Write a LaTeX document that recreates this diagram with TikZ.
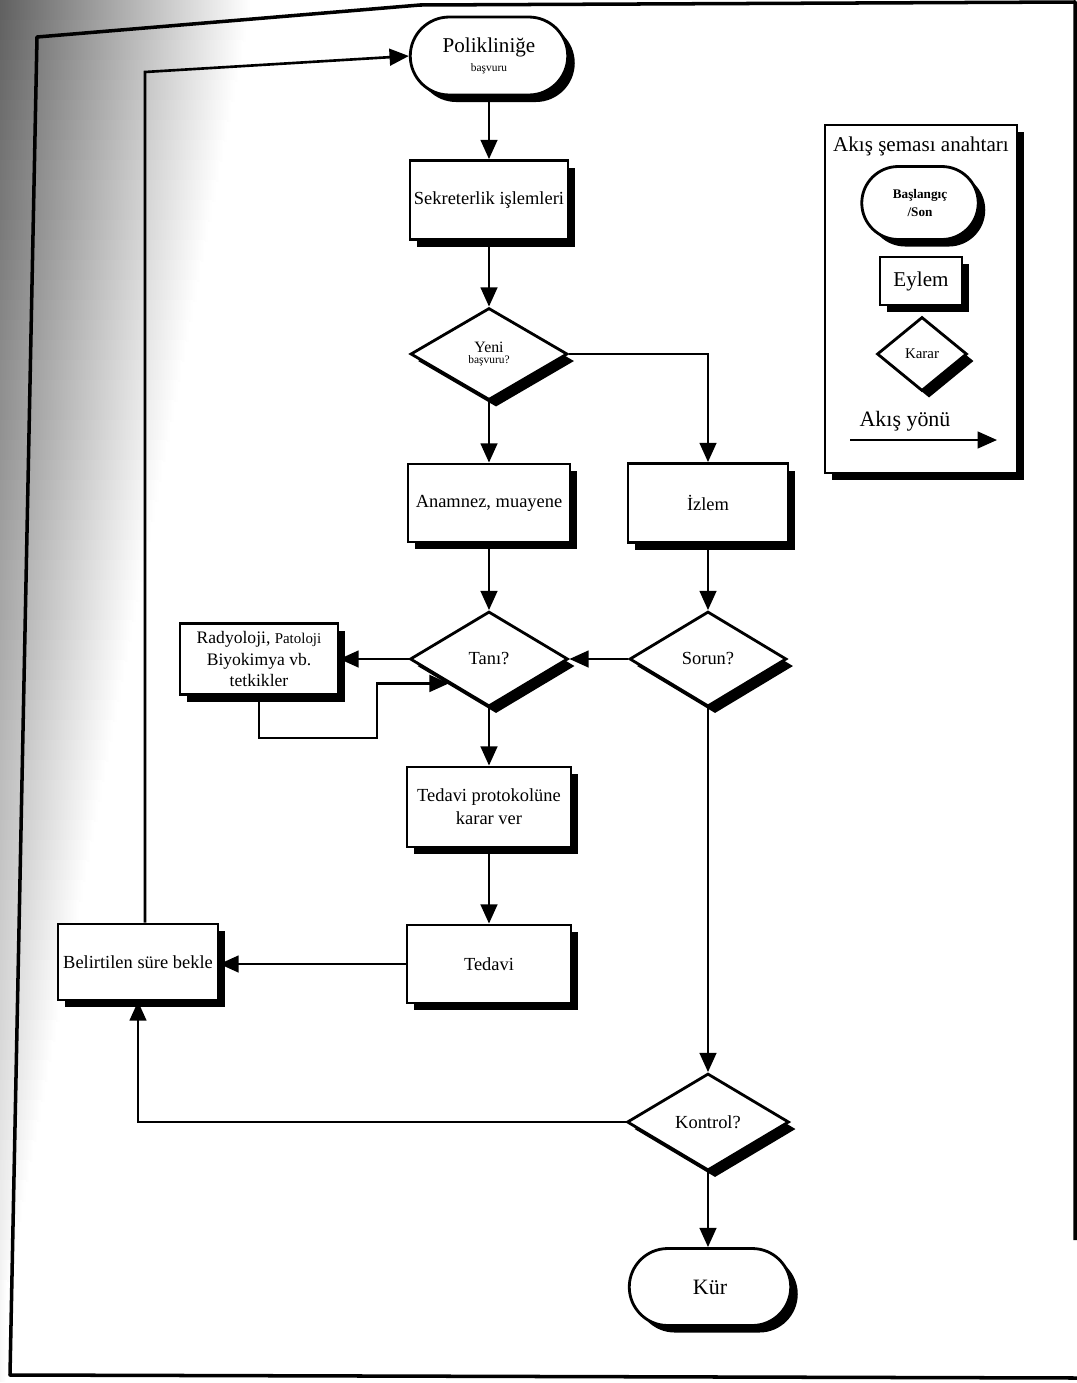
\documentclass[tikz,border=0pt]{standalone}
\usepackage{fontspec}
\setmainfont{Liberation Serif}
\usetikzlibrary{arrows.meta,shapes.geometric,shapes.misc,shadows,calc}

\newcommand\txtsize[2]{\fontsize{#1}{#2}\selectfont}

\tikzset{
  heavyshadow/.style={drop shadow={shadow xshift=4pt, shadow yshift=-4pt, fill=black, opacity=1}},
  box/.style={draw, line width=1.6pt, fill=white, rectangle, align=center,
    inner sep=1pt, heavyshadow, font=\txtsize{10.5}{13}},
  dec/.style={draw, line width=1.6pt, fill=white, diamond, align=center,
    inner sep=0pt, heavyshadow, font=\txtsize{10.5}{13}},
  term/.style={draw, line width=1.6pt, fill=white, rounded rectangle, align=center,
    inner sep=1pt, heavyshadow, font=\txtsize{12}{14}},
  conn/.style={line width=1.5pt, -{Triangle[length=11pt,width=9.5pt]}},
  label/.style={inner sep=0pt, align=center},
}

\begin{document}
\begin{tikzpicture}[x=0.02cm, y=-0.02cm]
\useasboundingbox (0,0) rectangle (1077,1383);
\fill[white] (0,0) rectangle (1077,1383);

% darkened left margin of the page
\foreach \i in {0,...,68} {
  \pgfmathsetmacro\ya{\i*20}
  \pgfmathsetmacro\yb{\ya+21}
  \pgfmathsetmacro\w{max(250-0.19*\ya,6)}
  \pgfmathtruncatemacro\d{max(62-0.045*\ya,3)}
  \shade[left color=black!\d, right color=white] (0,\ya) rectangle (\w,\yb);
}

% page frame
\draw[line width=2pt, line join=round] (1075,1240) -- (1075,2) -- (420,5) -- (37,37)
  -- (10,1375) -- (1077,1378);

% main flow
\node[term, minimum width=3.22cm, minimum height=1.56cm] (pol) at (489,56)
  {\txtsize{12}{13}Polikliniğe\\[-3pt]\txtsize{6.5}{9}başvuru};
\node[box, minimum width=3.16cm, minimum height=1.58cm] (sek) at (489,200)
  {Sekreterlik işlemleri};
\node[dec, minimum width=3.14cm, minimum height=1.84cm] (yeni) at (489,354)
  {\txtsize{9}{9}Yeni\\[-7pt]\txtsize{6.5}{7}başvuru?};
\node[box, minimum width=3.24cm, minimum height=1.56cm] (anam) at (489,503)
  {Anamnez, muayene};
\node[box, minimum width=3.2cm, minimum height=1.58cm] (izlem) at (708,503)
  {İzlem};
\node[dec, minimum width=3.16cm, minimum height=1.9cm] (tani) at (489,659)
  {Tanı?};
\node[dec, minimum width=3.14cm, minimum height=1.9cm] (sorun) at (708,659)
  {Sorun?};
\node[box, minimum width=3.16cm, minimum height=1.42cm, font=\txtsize{10}{12.5}] (rad) at (259,659)
  {Radyoloji, {\txtsize{8.5}{12.5}Patoloji}\\Biyokimya vb.\\tetkikler};
\node[box, minimum width=3.28cm, minimum height=1.6cm] (tedprot) at (489,807)
  {Tedavi protokolüne\\karar ver};
\node[box, minimum width=3.28cm, minimum height=1.56cm] (tedavi) at (489,964)
  {Tedavi};
\node[box, minimum width=3.2cm, minimum height=1.52cm] (bel) at (138,962)
  {Belirtilen süre bekle};
\node[dec, minimum width=3.24cm, minimum height=1.94cm] (kontrol) at (708,1122)
  {Kontrol?};
\node[term, minimum width=3.3cm, minimum height=1.54cm, font=\txtsize{12.5}{14}] (kur) at (710,1287)
  {Kür};

% connectors
\draw[conn] (pol.south) -- (sek.north);
\draw[conn] (sek.south) -- (yeni.north);
\draw[conn] (yeni.south) -- (anam.north);
\draw[conn] (yeni.east) -| (izlem.north);
\draw[conn] (anam.south) -- (tani.north);
\draw[conn] (izlem.south) -- (sorun.north);
\draw[conn] (tani.west) -- (tani.west -| rad.east);
\coordinate (loopA) at (377,738);
\coordinate (taniin) at ($(tani.west)!0.5!(tani.south)$);
\draw[conn] (rad.south) |- (loopA) |- (taniin);
\draw[conn] (sorun.west) -- (tani.east);
\draw[conn] (tani.south) -- (tedprot.north);
\draw[conn] (tedprot.south) -- (tedavi.north);
\draw[conn] (tedavi.west) -- (tedavi.west -| bel.east);
\draw[conn] (sorun.south) -- (kontrol.north);
\draw[conn] (kontrol.south) -- (kontrol.south |- kur.north);
\draw[conn] (kontrol.west) -| (bel.south);
\coordinate (ret) at (145,72);
\draw[conn] (bel.north -| ret) -- (ret) -- (pol.west);

% key to the symbols
\node[box, minimum width=3.84cm, minimum height=6.96cm] (legend) at (921,299) {};
\node[label, font=\txtsize{12}{14}] (legtitle) at (921,146) {Akış şeması anahtarı};
\node[term, minimum width=2.4cm, minimum height=1.46cm, font=\bfseries\txtsize{7.5}{10}] (legterm) at (920,203)
  {Başlangıç\\/Son};
\node[box, minimum width=1.64cm, minimum height=0.96cm, font=\txtsize{12}{14}] (legbox) at (921,281)
  {Eylem};
\node[dec, minimum width=1.8cm, minimum height=1.48cm, font=\txtsize{8.5}{10}] (legdec) at (922,354)
  {Karar};
\node[label, font=\txtsize{12.5}{14}] (legflow) at (905,421) {Akış yönü};
\coordinate (la) at (850,440);
\coordinate (lb) at (997,440);
\draw[conn, line width=1.2pt] (la) -- (lb);
\end{tikzpicture}
\end{document}
